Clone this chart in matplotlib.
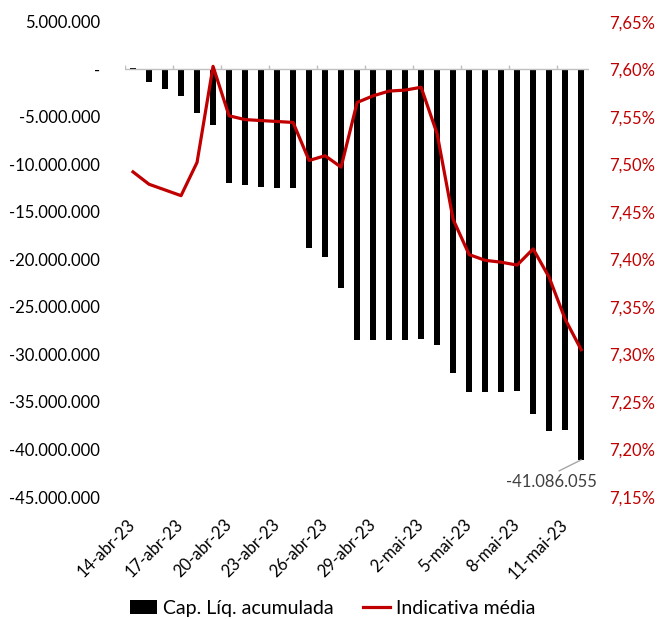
import matplotlib.pyplot as plt
from matplotlib.ticker import FuncFormatter
from matplotlib.transforms import ScaledTranslation

plt.rcParams['font.family'] = ['Lato', 'DejaVu Sans']

# dias (eixo de categorias)
dates = ["14-abr-23", "15-abr-23", "16-abr-23", "17-abr-23", "18-abr-23", "19-abr-23",
         "20-abr-23", "21-abr-23", "22-abr-23", "23-abr-23", "24-abr-23", "25-abr-23",
         "26-abr-23", "27-abr-23", "28-abr-23", "29-abr-23", "30-abr-23", "1-mai-23",
         "2-mai-23", "3-mai-23", "4-mai-23", "5-mai-23", "6-mai-23", "7-mai-23",
         "8-mai-23", "9-mai-23", "10-mai-23", "11-mai-23", "12-mai-23"]

# captacao liquida acumulada (R$)
cap_liq = [150000, -1300000, -2070000, -2770000, -4630000, -5900000,
           -12000000, -12200000, -12350000, -12450000, -12500000, -18800000,
           -19800000, -23050000, -28500000, -28450000, -28450000, -28450000,
           -28400000, -29000000, -31900000, -33970000, -33900000, -33900000,
           -33800000, -36250000, -38100000, -37900000, -41086055]

# indicativa media (%)
indicativa = [7.492, 7.479, 7.473, 7.467, 7.502, 7.603, 7.551, 7.547, 7.546, 7.545,
              7.544, 7.504, 7.509, 7.497, 7.565, 7.572, 7.577, 7.578, 7.581, 7.532,
              7.442, 7.405, 7.399, 7.397, 7.394, 7.411, 7.381, 7.337, 7.305]

RED = '#C00000'
x = list(range(len(dates)))

fig = plt.figure(figsize=(6.65, 6.19), dpi=100)
ax = fig.add_axes([0.188, 0.197, 0.698, 0.768])
ax2 = ax.twinx()

bars = ax.bar(x, cap_liq, width=0.38, color='black', label='Cap. Líq. acumulada')
line, = ax2.plot(x, indicativa, color=RED, lw=2.3, label='Indicativa média')

ax.set_xlim(-0.5, len(dates) - 0.5)
ax.set_ylim(-45000000, 5000000)
ax.set_yticks(range(-45000000, 5000001, 5000000))

def fmt_left(v, pos):
    if v == 0:
        return '-'
    return f"{v:,.0f}".replace(',', '.')

ax.yaxis.set_major_formatter(FuncFormatter(fmt_left))
ax2.set_ylim(7.15, 7.65)
ax2.set_yticks([7.15 + 0.05 * i for i in range(11)])
ax2.yaxis.set_major_formatter(FuncFormatter(lambda v, p: f"{v:.2f}%".replace('.', ',')))

for a in (ax, ax2):
    for s in a.spines.values():
        s.set_visible(False)

ax.tick_params(axis='y', length=0, labelsize=12, pad=18)
ax2.tick_params(axis='y', length=0, labelsize=12, colors=RED, pad=14)

ax.set_xticks(x[::3])
ax.set_xticklabels(dates[::3], rotation=45, ha='right', rotation_mode='anchor')
ax.tick_params(axis='x', length=0, labelsize=12, pad=14)
shift = ScaledTranslation(-6 / 100, 0, fig.dpi_scale_trans)
for lbl in ax.get_xticklabels():
    lbl.set_transform(lbl.get_transform() + shift)

# linha do zero com marcas a cada 3 categorias
ax.axhline(0, color='#BFBFBF', lw=1, zorder=1)
ax.vlines([i - 0.5 for i in range(0, len(dates), 3)], 0, 450000, color='#BFBFBF', lw=1, zorder=1)

# rotulo do ultimo valor
last = len(dates) - 1
ax.annotate(f"{cap_liq[last]:,.0f}".replace(',', '.'), xy=(last, cap_liq[last]),
            xytext=(last - 1.85, cap_liq[last] - 2300000), ha='center', va='center',
            fontsize=12, color='#404040',
            arrowprops=dict(arrowstyle='-', color='#A6A6A6', lw=1, shrinkA=0, shrinkB=0,
                            relpos=(0.52, 1.0)))

fig.legend(handles=[bars, line], loc='lower center', bbox_to_anchor=(0.5, -0.025),
           ncol=2, frameon=False, fontsize=14, columnspacing=1.5, handlelength=1.4,
           handletextpad=0.3)

fig.savefig('out.png', dpi=100)
